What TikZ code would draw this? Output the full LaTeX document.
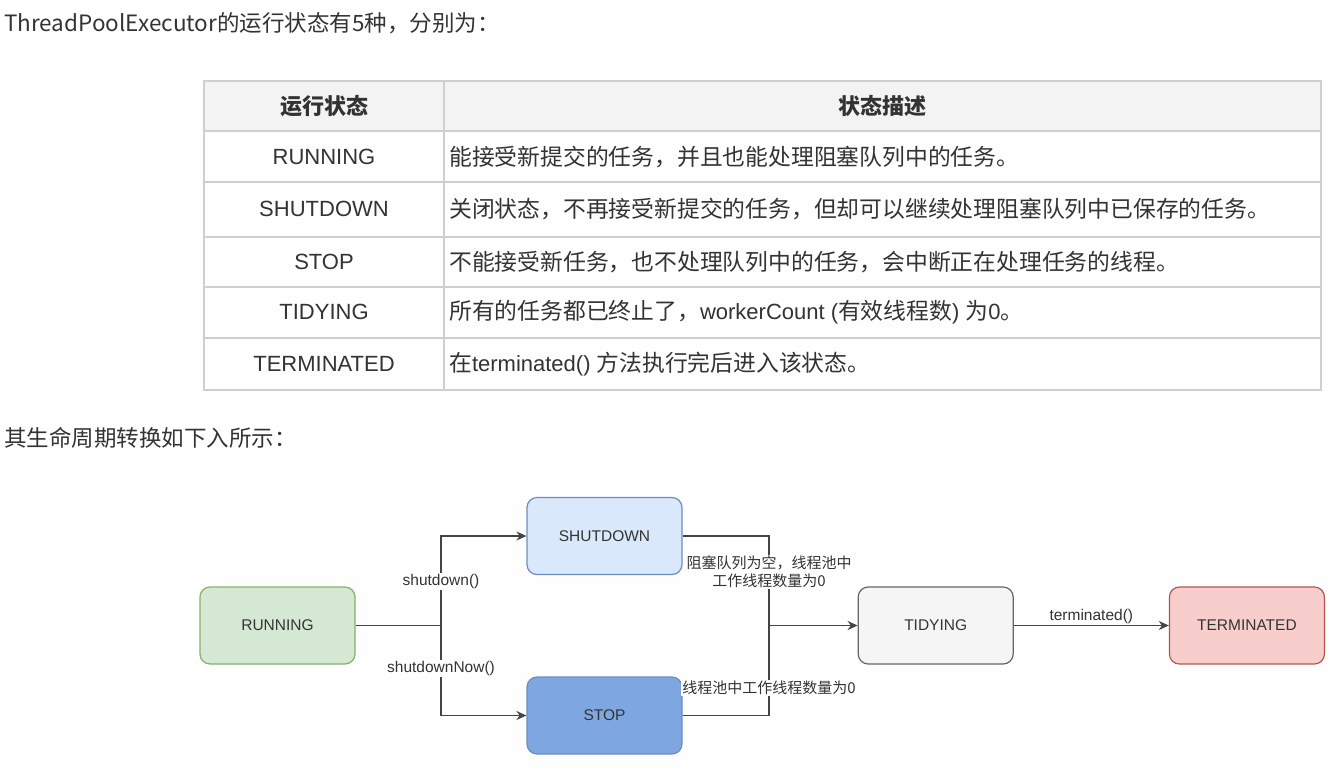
\documentclass[tikz,border=0pt]{standalone}
\usepackage{fontspec}
\setmainfont{Liberation Sans}
\newfontfamily\cjk{Noto Sans CJK SC}
\newcommand\zh{\cjk\fontsize{22.8}{26}\selectfont}
\usepackage{tikz}
\usetikzlibrary{arrows.meta, positioning}
\definecolor{runfill}{HTML}{D5E8D4}
\definecolor{runline}{HTML}{82B366}
\definecolor{shutfill}{HTML}{DAE8FC}
\definecolor{shutline}{HTML}{6C8EBF}
\definecolor{stopfill}{HTML}{7EA6E0}
\definecolor{tidyfill}{HTML}{F5F5F5}
\definecolor{tidyline}{HTML}{666666}
\definecolor{termfill}{HTML}{F8CECC}
\definecolor{termline}{HTML}{B85450}
\definecolor{linegray}{HTML}{444444}
\definecolor{rulegray}{HTML}{CFCFCF}
\definecolor{headfill}{HTML}{F3F3F3}
\definecolor{textgray}{HTML}{333333}
\definecolor{pagegray}{HTML}{FEFEFE}
\tikzset{
		heading/.style={anchor=west, inner sep=0pt, text=textgray, font=\cjk\fontsize{22.5}{26}\selectfont},
		cell/.style={inner sep=0pt, text=textgray, font=\fontsize{22}{26}\selectfont},
		desc/.style={cell, anchor=west},
		rule/.style={draw=rulegray, line width=1.2pt},
		state box/.style={draw, rounded corners=10pt, minimum width=155pt, minimum height=77pt, line width=1.2pt, text=textgray, font=\fontsize{15.5}{18}\selectfont},
		flow/.style={draw=linegray, line width=1.5pt},
		flow label/.style={fill=white, inner sep=1pt, text=textgray, font=\fontsize{15.5}{18}\selectfont},
		cjk label/.style={flow label, align=center, font=\cjk\fontsize{15}{17.5}\selectfont}
	}
\begin{document}
\begin{tikzpicture}[x=1pt, y=1pt, >={Stealth[length=10pt, width=9pt]}]
	\useasboundingbox (0,0) rectangle (1331,-780);
	\fill[pagegray] (195,-72) rectangle (1331,-400);
	\fill[pagegray] (195,-487) rectangle (1331,-768);

	\node[heading] (intro) at (4,-23) {ThreadPoolExecutor的运行状态有5种，分别为：};
	\node[heading] (cycle) at (4,-438) {其生命周期转换如下入所示：};

	% table of states
	\fill[headfill] (204,-81) rectangle (1321,-131);
	\draw[rule] (204,-81) rectangle (1321,-390);
	\draw[rule] (444,-81) -- (444,-390);
	\foreach \y in {131,182,237,287,338}
		\draw[rule] (204,-\y) -- (1321,-\y);

	\node[cell, font=\cjk\bfseries\fontsize{22}{26}\selectfont] (colstate) at (324,-106) {运行状态};
	\node[cell, font=\cjk\bfseries\fontsize{22}{26}\selectfont] (coldesc)  at (882,-106) {状态描述};

	\node[cell] (running cell)    at (324,-157) {RUNNING};
	\node[cell] (shutdown cell)   at (324,-209) {SHUTDOWN};
	\node[cell] (stop cell)       at (324,-262) {STOP};
	\node[cell] (tidying cell)    at (324,-312) {TIDYING};
	\node[cell] (terminated cell) at (324,-364) {TERMINATED};

	\node[desc] (running desc)    at (449,-157) {\zh 能接受新提交的任务，并且也能处理阻塞队列中的任务。};
	\node[desc] (shutdown desc)   at (449,-209) {\zh 关闭状态，不再接受新提交的任务，但却可以继续处理阻塞队列中已保存的任务。};
	\node[desc] (stop desc)       at (449,-262) {\zh 不能接受新任务，也不处理队列中的任务，会中断正在处理任务的线程。};
	\node[desc] (tidying desc)    at (449,-312) {{\zh 所有的任务都已终止了，}workerCount ({\zh 有效线程数}) {\zh 为}0{\zh 。}};
	\node[desc] (terminated desc) at (449,-364) {{\zh 在}terminated() {\zh 方法执行完后进入该状态。}};

	% life cycle
	\node[state box, fill=runfill, draw=runline]   (running)  at (277.5,-625.5) {RUNNING};
	\node[state box, fill=shutfill, draw=shutline] (shutdown) at (604.5,-536)   {SHUTDOWN};
	\node[state box, fill=stopfill, draw=shutline] (stop)     at (604.5,-715.5) {STOP};
	\node[state box, fill=tidyfill, draw=tidyline] (tidying)    [right=502pt of running] {TIDYING};
	\node[state box, fill=termfill, draw=termline] (terminated) [right=155pt of tidying] {TERMINATED};

	\coordinate (split) at (441,-625.5);
	\coordinate (merge) at (769,-625.5);

	\draw[flow] (running) -- (split);
	\draw[flow, ->] (split) |- node[pos=0.245, flow label] {shutdown()} (shutdown);
	\draw[flow, ->] (split) |- node[pos=0.24, flow label] {shutdownNow()} (stop);
	\draw[flow] (shutdown) -| node[pos=0.7, cjk label] {阻塞队列为空，线程池中\\工作线程数量为0} (merge);
	\draw[flow] (stop) -| node[pos=0.655, cjk label] {线程池中工作线程数量为0} (merge);
	\draw[flow, ->] (merge) -- (tidying);
	\draw[flow, ->] (tidying) -- node[above, flow label, fill=none] {terminated()} (terminated);
\end{tikzpicture}
\end{document}
